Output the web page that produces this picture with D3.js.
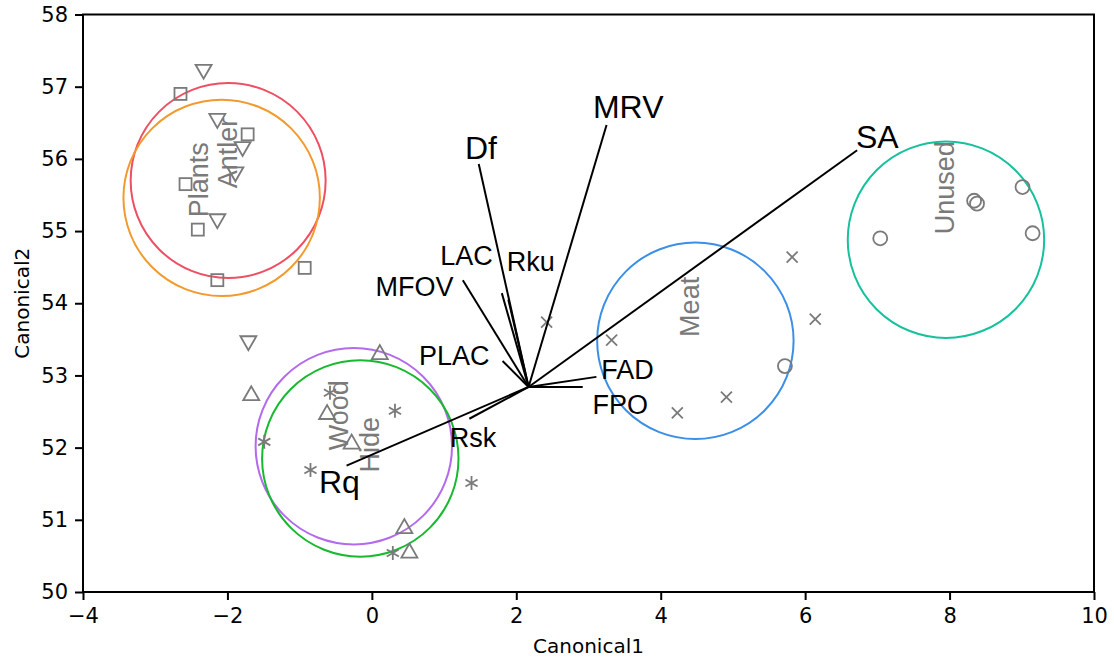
<!DOCTYPE html>
<html>
<head>
<meta charset="utf-8">
<title>Canonical plot</title>
<script src="https://cdn.jsdelivr.net/npm/d3@7/dist/d3.min.js"></script>
<style>
  body { margin: 0; background: #fff; }
</style>
</head>
<body>
<div id="chart"></div>
<script>
// axis ticks
var xTicks = [-4, -2, 0, 2, 4, 6, 8, 10];
var yTicks = [50, 51, 52, 53, 54, 55, 56, 57, 58];

// groups: circle centre, radius, label position
var groupNames = ["Antler", "Plants", "Wood", "Hide", "Meat", "Unused"];
var groupColors = ["#ee4f62", "#f29a2e", "#b36bec", "#17b92e", "#3b8fe6", "#16c19c"];
var circleX = [-1.99, -2.08, -0.25, -0.16, 4.48, 7.95];
var circleY = [55.70, 55.46, 52.02, 51.85, 53.48, 54.88];
var circleR = [1.35, 1.36, 1.36, 1.36, 1.36, 1.36];
var labelX = [-1.99, -2.39, -0.45, -0.03, 4.40, 7.93];
var labelY = [56.08, 55.71, 52.45, 52.04, 53.95, 55.60];

// observations
var squares = [[-2.65, 56.90], [-1.72, 56.34], [-2.58, 55.65], [-2.41, 55.02], [-2.14, 54.32], [-0.93, 54.49]];
var downTri = [[-2.33, 57.22], [-2.14, 56.54], [-1.79, 56.15], [-1.89, 55.80], [-2.14, 55.15], [-1.71, 53.46]];
var upTri = [[0.11, 53.31], [-1.67, 52.74], [-0.62, 52.48], [-0.28, 52.07], [0.45, 50.90], [0.52, 50.56]];
var stars = [[-0.58, 52.76], [0.32, 52.51], [-1.49, 52.08], [-0.85, 51.69], [1.38, 51.51], [0.29, 50.54]];
var crosses = [[2.42, 53.74], [3.32, 53.49], [5.82, 54.64], [6.14, 53.78], [4.91, 52.70], [4.23, 52.48]];
var rings = [[5.72, 53.13], [7.04, 54.90], [8.34, 55.42], [8.38, 55.38], [9.01, 55.61], [9.15, 54.97]];

// biplot rays
var origin = [2.17, 52.84];
var rayNames = ["Df", "MRV", "SA", "LAC", "Rku", "MFOV", "PLAC", "FAD", "FPO", "Rsk", "Rq"];
var rayX = [1.48, 3.25, 6.72, 1.80, 1.89, 1.26, 1.81, 3.11, 2.92, 1.35, -0.35];
var rayY = [55.93, 56.47, 56.12, 54.14, 54.05, 54.32, 53.20, 52.98, 52.84, 52.40, 51.75];
var rayLabelX = [1.51, 3.55, 7.00, 1.31, 2.20, 0.59, 1.14, 3.54, 3.44, 1.40, -0.45];
var rayLabelY = [56.15, 56.72, 56.30, 54.66, 54.57, 54.23, 53.27, 53.08, 52.59, 52.13, 51.52];
var rayBig = [true, true, true, false, false, false, false, false, false, false, true];

var W = 1114, H = 663;
var m = {left: 83, right: 20, top: 14.5, bottom: 71};

var svg = d3.select("#chart").append("svg")
	.attr("width", W)
	.attr("height", H);

var x = d3.scaleLinear().domain([-4, 10]).range([m.left, W - m.right]);
var y = d3.scaleLinear().domain([50, 58]).range([H - m.bottom, m.top]);

var axisFont = "'DejaVu Sans', sans-serif";
var gray = "#7a7a7a";

// group circles
var g = svg.append("g");
groupNames.forEach(function(name, i){
	g.append("circle")
		.attr("cx", x(circleX[i]))
		.attr("cy", y(circleY[i]))
		.attr("r", x(circleX[i] + circleR[i]) - x(circleX[i]))
		.attr("fill", "none")
		.attr("stroke", groupColors[i])
		.attr("stroke-width", 2);
});

// group labels (rotated)
groupNames.forEach(function(name, i){
	g.append("text")
		.attr("transform", "translate(" + x(labelX[i]) + "," + y(labelY[i]) + ") rotate(-90)")
		.attr("text-anchor", "middle")
		.attr("dominant-baseline", "central")
		.attr("font-family", "'Liberation Sans', Arial, sans-serif")
		.attr("font-size", "27px")
		.attr("fill", gray)
		.text(name);
});

// markers
var mk = svg.append("g")
	.attr("fill", "none")
	.attr("stroke", gray)
	.attr("stroke-width", 1.8);

mk.selectAll(".sq").data(squares).enter().append("rect")
	.attr("x", function(d){ return x(d[0]) - 6; })
	.attr("y", function(d){ return y(d[1]) - 6; })
	.attr("width", 12).attr("height", 12);

var tri = function(d, dir){
	var cx = x(d[0]), cy = y(d[1]), s = 8;
	if (dir < 0)
		return "M" + (cx - s) + "," + (cy - 6) + "L" + (cx + s) + "," + (cy - 6) + "L" + cx + "," + (cy + 8) + "Z";
	return "M" + (cx - s) + "," + (cy + 6) + "L" + (cx + s) + "," + (cy + 6) + "L" + cx + "," + (cy - 8) + "Z";
};
mk.selectAll(".dt").data(downTri).enter().append("path")
	.attr("d", function(d){ return tri(d, -1); });
mk.selectAll(".ut").data(upTri).enter().append("path")
	.attr("d", function(d){ return tri(d, 1); });

mk.selectAll(".st").data(stars).enter().append("path")
	.attr("d", function(d){
		var cx = x(d[0]), cy = y(d[1]), s = 7, p = "";
		[0, 60, 120].forEach(function(a){
			var r = (a + 90) * Math.PI / 180;
			p += "M" + (cx - s * Math.cos(r)) + "," + (cy - s * Math.sin(r)) +
				"L" + (cx + s * Math.cos(r)) + "," + (cy + s * Math.sin(r));
		});
		return p;
	});

mk.selectAll(".cr").data(crosses).enter().append("path")
	.attr("d", function(d){
		var cx = x(d[0]), cy = y(d[1]), s = 5.5;
		return "M" + (cx - s) + "," + (cy - s) + "L" + (cx + s) + "," + (cy + s) +
			"M" + (cx - s) + "," + (cy + s) + "L" + (cx + s) + "," + (cy - s);
	});

mk.selectAll(".ri").data(rings).enter().append("circle")
	.attr("cx", function(d){ return x(d[0]); })
	.attr("cy", function(d){ return y(d[1]); })
	.attr("r", 7);

// rays
var rays = svg.append("g");
rayNames.forEach(function(name, i){
	rays.append("line")
		.attr("x1", x(origin[0])).attr("y1", y(origin[1]))
		.attr("x2", x(rayX[i])).attr("y2", y(rayY[i]))
		.attr("stroke", "#000")
		.attr("stroke-width", 2);
	rays.append("text")
		.attr("x", x(rayLabelX[i]))
		.attr("y", y(rayLabelY[i]))
		.attr("text-anchor", "middle")
		.attr("dominant-baseline", "central")
		.attr("font-family", "'Liberation Sans', Arial, sans-serif")
		.attr("font-size", rayBig[i] ? "32px" : "27px")
		.attr("fill", "#000")
		.text(name);
});

// frame
svg.append("rect")
	.attr("x", x(-4)).attr("y", y(58))
	.attr("width", x(10) - x(-4)).attr("height", y(50) - y(58))
	.attr("fill", "none")
	.attr("stroke", "#000")
	.attr("stroke-width", 2);

// axes
var xAxis = svg.append("g")
	.attr("transform", "translate(0," + y(50) + ")")
	.call(d3.axisBottom(x).tickValues(xTicks).tickSize(8).tickPadding(8).tickFormat(d3.format("d")));
var yAxis = svg.append("g")
	.attr("transform", "translate(" + x(-4) + ",0)")
	.call(d3.axisLeft(y).tickValues(yTicks).tickSize(8).tickPadding(7).tickFormat(d3.format("d")));

[xAxis, yAxis].forEach(function(a){
	a.select(".domain").remove();
	a.selectAll(".tick line").attr("stroke", "#000").attr("stroke-width", 2);
	a.selectAll(".tick text")
		.attr("font-family", axisFont)
		.attr("font-size", "21px")
		.attr("fill", "#000");
});

svg.append("text")
	.attr("x", (x(-4) + x(10)) / 2)
	.attr("y", 653)
	.attr("text-anchor", "middle")
	.attr("font-family", axisFont)
	.attr("font-size", "20px")
	.text("Canonical1");

svg.append("text")
	.attr("transform", "translate(29," + (y(54)) + ") rotate(-90)")
	.attr("text-anchor", "middle")
	.attr("font-family", axisFont)
	.attr("font-size", "20px")
	.text("Canonical2");
</script>
</body>
</html>
